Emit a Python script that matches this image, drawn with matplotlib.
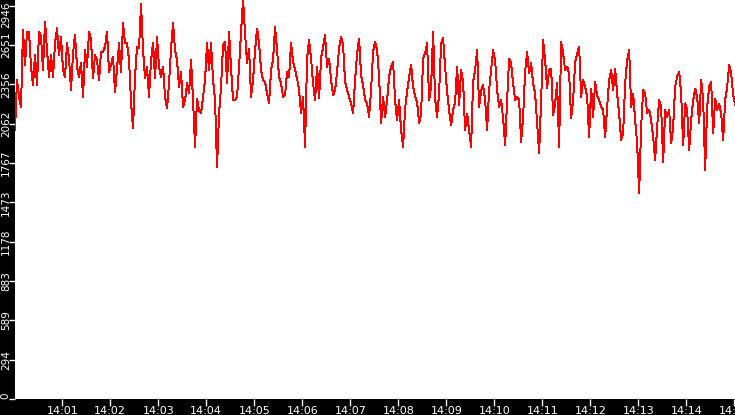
import numpy as np
import pandas as pd
import matplotlib
matplotlib.use("Agg")
import matplotlib.pyplot as plt
import matplotlib.dates as mdates
from matplotlib.transforms import ScaledTranslation

# samples every 2.5 s starting 14:00:01
start = "2024-01-01 14:00:01"
step_s = 2.5

values = [
    # 14:00:01 - 14:01:53
    2014, 2389, 2264, 2189, 2764, 2501, 2751, 2751, 2489, 2351, 2576, 2351, 2751, 2714, 2464,
    2826, 2614, 2414, 2576, 2414, 2664, 2776, 2576, 2714, 2464, 2414, 2664, 2551, 2314, 2589,
    2726, 2489, 2414, 2514, 2264, 2614, 2489, 2751, 2689, 2401, 2576, 2539, 2389, 2601, 2601,
    # 14:01:53 - 14:03:46
    2639, 2751, 2451, 2501, 2564, 2301, 2476, 2664, 2451, 2814, 2664, 2664, 2539, 2226, 2026,
    2414, 2639, 2626, 2959, 2614, 2401, 2489, 2264, 2539, 2664, 2401, 2714, 2489, 2414, 2489,
    2264, 2176, 2364, 2626, 2814, 2614, 2539, 2339, 2451, 2189, 2239, 2364, 2289, 2539, 2239,
    # 14:03:46 - 14:05:38
    1889, 2251, 2164, 2139, 2264, 2389, 2664, 2464, 2664, 2389, 2239, 1740, 2139, 2339, 2651,
    2676, 2364, 2751, 2476, 2239, 2239, 2264, 2489, 2751, 2989, 2739, 2514, 2626, 2264, 2389,
    2614, 2776, 2664, 2464, 2389, 2376, 2289, 2214, 2464, 2539, 2789, 2614, 2414, 2364, 2264,
    # 14:05:38 - 14:07:31
    2276, 2451, 2414, 2664, 2526, 2464, 2401, 2314, 2139, 2264, 1889, 2551, 2689, 2551, 2364,
    2239, 2489, 2251, 2551, 2639, 2726, 2489, 2551, 2389, 2276, 2314, 2451, 2626, 2714, 2651,
    2376, 2314, 2264, 2214, 2139, 2389, 2589, 2701, 2426, 2351, 2239, 2214, 2114, 2314, 2601,
    # 14:07:31 - 14:09:23
    2676, 2614, 2414, 2064, 2264, 2114, 2239, 2414, 2489, 2526, 2239, 2089, 2239, 2014, 1889,
    2176, 2301, 2414, 2501, 2339, 2264, 2226, 2064, 2139, 2551, 2589, 2664, 2239, 2339, 2751,
    2251, 2114, 2289, 2664, 2701, 2489, 2301, 2164, 2051, 2164, 2226, 2489, 2201, 2464, 2376,
    # 14:09:23 - 14:11:16
    2014, 2139, 2014, 1889, 2376, 2464, 2614, 2189, 2314, 2351, 2239, 2014, 2314, 2464, 2614,
    2539, 2314, 2189, 2239, 2101, 1901, 2239, 2551, 2514, 2364, 2239, 2264, 2239, 1926, 2114,
    2451, 2601, 2439, 2514, 2364, 2289, 2064, 1840, 2239, 2689, 2539, 2326, 2464, 2476, 2126,
    # 14:11:16 - 14:13:08
    2214, 2364, 1889, 2676, 2589, 2464, 2489, 2439, 2101, 2239, 2526, 2589, 2639, 2264, 2389,
    2339, 2264, 1964, 2326, 2114, 2376, 2276, 2239, 2189, 2164, 1964, 2189, 2389, 2464, 2314,
    2476, 2289, 2139, 1939, 1989, 2364, 2539, 2614, 2189, 2289, 2089, 1914, 1539, 2039, 2314,
    # 14:13:08 - 14:15:01
    2289, 2139, 2164, 2089, 1964, 1789, 2039, 2239, 2189, 1776, 2164, 2114, 2164, 1914, 2039,
    2339, 2414, 2451, 2289, 1901, 2214, 2164, 1864, 2089, 2239, 2326, 2264, 2064, 2389, 2239,
    1714, 2189, 2339, 2376, 1989, 2251, 2164, 2214, 2139, 1939, 2239, 2339, 2501, 2439, 2276,
    2201,
]

y_max = 2989
tick_step = 294.6
tick_vals = [tick_step * k for k in range(11)]
tick_labels = ["0", "294", "589", "883", "1178", "1473", "1767", "2062", "2356", "2651", "2946"]

times = pd.date_range(start, periods=len(values), freq=pd.Timedelta(seconds=step_s))

fig = plt.figure(figsize=(7.35, 4.15), dpi=100, facecolor="black")
ax = fig.add_axes([15 / 735, 16 / 415, 720 / 735, 399 / 415])
ax.set_facecolor("white")

ax.plot(times, values, color="#ff0000", lw=0.7, antialiased=False)

ax.set_ylim(0, y_max)
ax.set_xlim(times[0], pd.Timestamp("2024-01-01 14:15:00.8"))

ax.xaxis.set_major_locator(mdates.MinuteLocator())
ax.xaxis.set_major_formatter(mdates.DateFormatter("%H:%M"))

ax.tick_params(colors="white", labelsize=8, width=1, direction="out")
ax.tick_params(axis="y", length=4, pad=-1, labelsize=7.5)
ax.tick_params(axis="x", length=5, pad=0)
for s in ax.spines.values():
    s.set_visible(False)

ax.set_yticks(tick_vals)
ax.set_yticklabels(tick_labels, rotation=90, va="center")
ylabs = ax.get_yticklabels()
ylabs[0].set_va("bottom")
ylabs[-1].set_va("top")
# nudge the top label up a little, like the reference
ylabs[-1].set_transform(ylabs[-1].get_transform()
                        + ScaledTranslation(0, 4 / 100, fig.dpi_scale_trans))

fig.savefig("out.png", dpi=100, facecolor="black")
